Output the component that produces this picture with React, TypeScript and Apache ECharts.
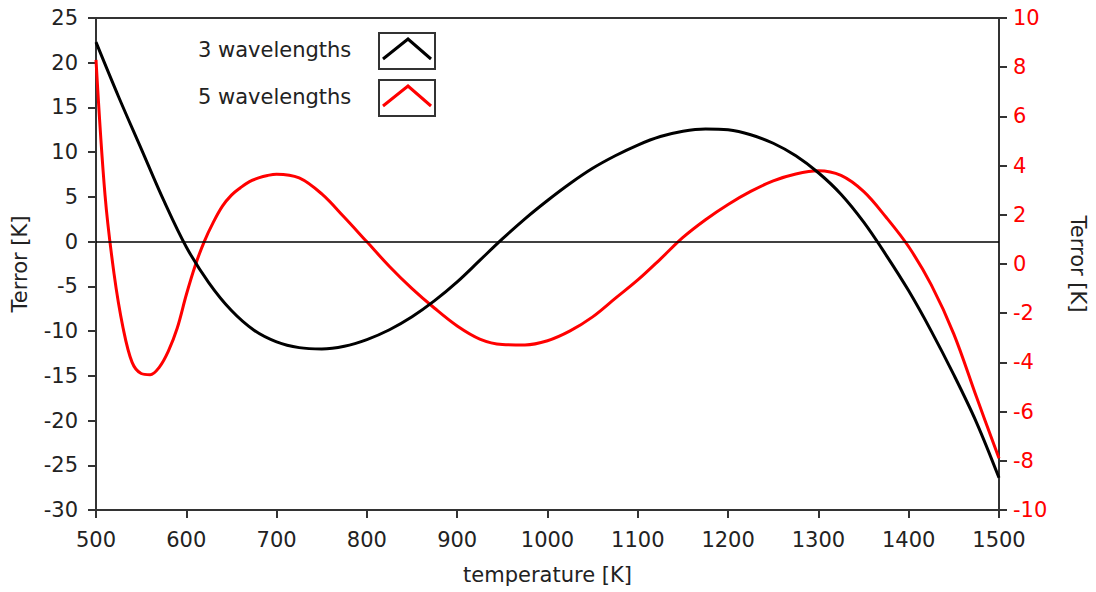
import React, { useEffect, useRef } from "react";
import * as echarts from "echarts";

// Temperature error (left axis) for the 3-wavelength fit
const temps3: number[] = [500, 525, 550, 575, 600, 625, 650, 675, 700, 725, 750, 775, 800, 825, 850, 875, 900, 925, 950, 975, 1000, 1025, 1050, 1075, 1100, 1125, 1150, 1175, 1200, 1225, 1250, 1275, 1300, 1325, 1350, 1375, 1400, 1425, 1450, 1475, 1500];
const err3: number[] = [22.3, 16.2, 10.4, 4.6, -0.6, -4.6, -7.7, -9.9, -11.2, -11.85, -12.0, -11.7, -10.95, -9.85, -8.4, -6.6, -4.5, -2.1, 0.3, 2.55, 4.6, 6.5, 8.2, 9.6, 10.8, 11.75, 12.35, 12.6, 12.5, 11.95, 11.0, 9.6, 7.7, 5.3, 2.2, -1.5, -5.5, -10.0, -14.9, -20.2, -26.4];

// Temperature error (right axis) for the 5-wavelength fit
const temps5: number[] = [500, 510, 520, 530, 540, 550, 560, 570, 580, 590, 600, 610, 620, 630, 640, 650, 660, 670, 680, 690, 700, 725, 750, 775, 800, 825, 850, 875, 900, 925, 950, 975, 1000, 1025, 1050, 1075, 1100, 1125, 1150, 1175, 1200, 1225, 1250, 1275, 1300, 1325, 1350, 1375, 1400, 1425, 1450, 1475, 1500];
const err5: number[] = [8.3, 2.8, -0.4, -2.6, -4.0, -4.45, -4.5, -4.2, -3.55, -2.6, -1.25, -0.05, 0.92, 1.7, 2.35, 2.8, 3.1, 3.35, 3.5, 3.6, 3.65, 3.5, 2.85, 1.9, 0.9, -0.1, -1.0, -1.8, -2.52, -3.05, -3.27, -3.29, -3.12, -2.72, -2.15, -1.4, -0.65, 0.2, 1.08, 1.8, 2.42, 2.95, 3.38, 3.66, 3.79, 3.6, 2.95, 1.9, 0.7, -0.85, -2.85, -5.4, -7.9];

const seriesNames: string[] = ["3 wavelengths", "5 wavelengths"];
const seriesColors: string[] = ["#000000", "#ff0000"];

const FONT = "DejaVu Sans";
const FONT_SIZE = 21;
const AXIS_COLOR = "#333333";
const TEXT_COLOR = "#222222";

export default function App() {
  const ref = useRef<HTMLDivElement>(null);

  useEffect(() => {
    if (!ref.current) return;
    const chart = echarts.init(ref.current, undefined, { renderer: "svg" });

    const d3 = temps3.map((t, i) => [t, err3[i]]);
    const d5 = temps5.map((t, i) => [t, err5[i]]);

    // Boxed legend: label on the left, caret-shaped line sample in a frame
    const legendItems: any[] = [];
    seriesNames.forEach((name, i) => {
      const y0 = 33 + i * 47;
      legendItems.push({
        type: "text",
        left: 198,
        top: y0 + 6,
        style: { text: name, font: `${FONT_SIZE}px "${FONT}"`, fill: TEXT_COLOR },
      });
      legendItems.push({
        type: "rect",
        shape: { x: 379, y: y0, width: 56, height: 36 },
        style: { fill: "#fff", stroke: AXIS_COLOR, lineWidth: 2 },
      });
      legendItems.push({
        type: "polyline",
        shape: { points: [[383, y0 + 26], [408, y0 + 6], [431, y0 + 26]] },
        style: { stroke: seriesColors[i], lineWidth: 3, fill: "none" },
      });
    });

    const axisCommon = {
      axisLine: { show: true, onZero: false, lineStyle: { color: AXIS_COLOR, width: 2 } },
      axisTick: { show: true, length: 8, lineStyle: { color: AXIS_COLOR, width: 2 } },
      splitLine: { show: false },
      nameTextStyle: { fontSize: FONT_SIZE, color: TEXT_COLOR, fontFamily: FONT },
    };

    chart.setOption({
      animation: false,
      backgroundColor: "#ffffff",
      textStyle: { fontFamily: FONT },
      grid: {
        left: 96,
        right: 93,
        top: 18,
        bottom: 82,
        show: true,
        borderColor: AXIS_COLOR,
        borderWidth: 2,
        backgroundColor: "#fff",
      },
      xAxis: {
        type: "value",
        min: 500,
        max: 1500,
        interval: 100,
        name: "temperature [K]",
        nameLocation: "middle",
        nameGap: 54,
        ...axisCommon,
        axisLabel: {
          fontSize: FONT_SIZE,
          color: TEXT_COLOR,
          margin: 19,
          fontFamily: FONT,
          formatter: (v: number) => String(v),
        },
      },
      yAxis: [
        {
          type: "value",
          min: -30,
          max: 25,
          interval: 5,
          position: "left",
          name: "Terror [K]",
          nameLocation: "middle",
          nameGap: 66,
          ...axisCommon,
          axisLabel: { fontSize: FONT_SIZE, color: TEXT_COLOR, margin: 18, fontFamily: FONT },
        },
        {
          type: "value",
          min: -10,
          max: 10,
          interval: 2,
          position: "right",
          name: "Terror [K]",
          nameLocation: "middle",
          nameGap: 68,
          nameRotate: -90,
          ...axisCommon,
          axisLabel: { fontSize: FONT_SIZE, color: "#ff0000", margin: 14, fontFamily: FONT },
        },
      ],
      series: [
        {
          name: seriesNames[0],
          type: "line",
          yAxisIndex: 0,
          data: d3,
          smooth: 0.35,
          showSymbol: false,
          lineStyle: { color: seriesColors[0], width: 3 },
          itemStyle: { color: seriesColors[0] },
          z: 3,
          markLine: {
            silent: true,
            symbol: "none",
            label: { show: false },
            lineStyle: { color: "#000", width: 1.5, type: "solid" },
            data: [{ yAxis: 0 }],
          },
        },
        {
          name: seriesNames[1],
          type: "line",
          yAxisIndex: 1,
          data: d5,
          smooth: 0.35,
          showSymbol: false,
          lineStyle: { color: seriesColors[1], width: 3 },
          itemStyle: { color: seriesColors[1] },
          z: 2,
        },
      ],
      graphic: legendItems,
    });

    return () => chart.dispose();
  }, []);

  return (
    <div
      ref={ref}
      style={{ position: "fixed", left: 0, top: 0, width: 1096, height: 592, background: "#fff" }}
    />
  );
}
